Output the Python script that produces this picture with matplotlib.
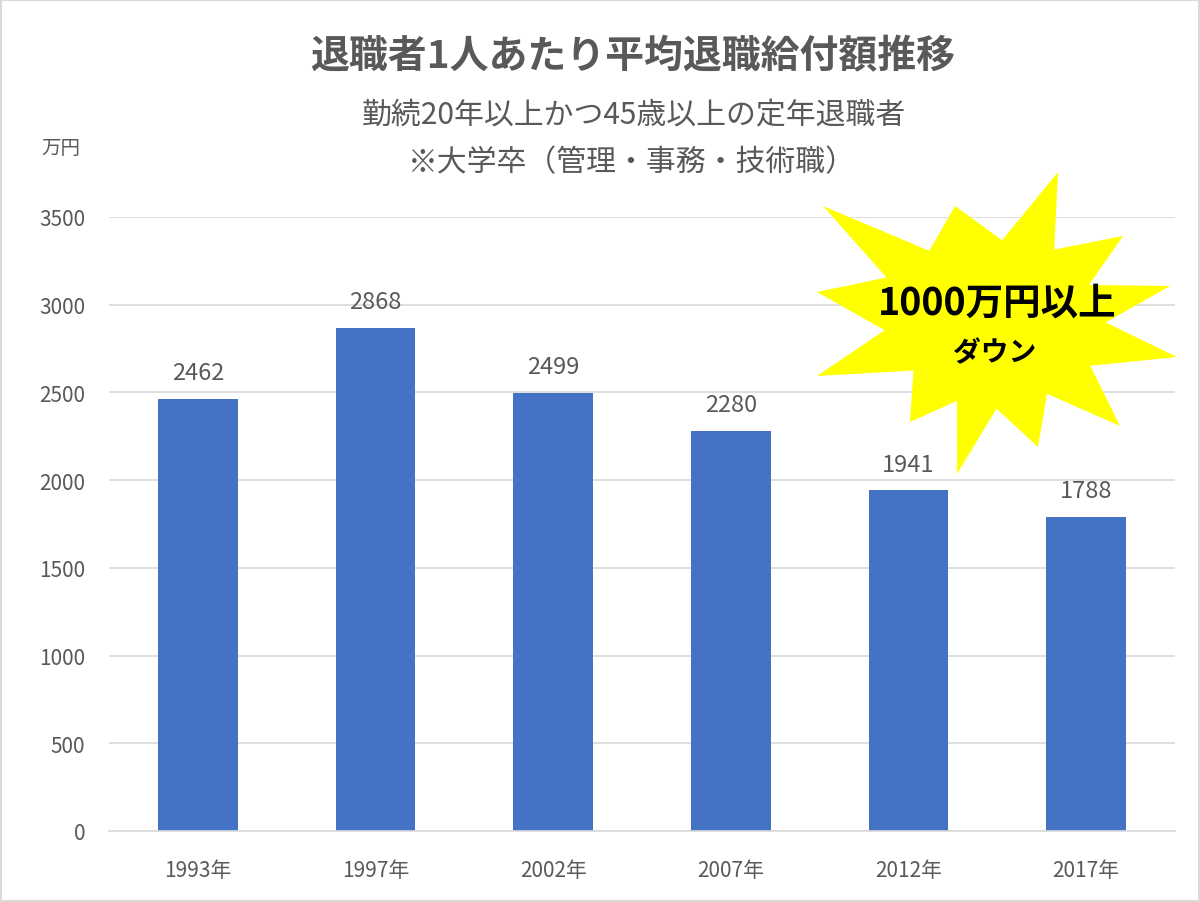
import matplotlib.pyplot as plt
import numpy as np
from matplotlib.patches import Polygon, Rectangle

plt.rcParams['font.family'] = ['Noto Sans CJK JP', 'DejaVu Sans']

# data
years = ['1993年', '1997年', '2002年', '2007年', '2012年', '2017年']
amounts = [2462, 2868, 2499, 2280, 1941, 1788]
yticks = [0, 500, 1000, 1500, 2000, 2500, 3000, 3500]

grey = '#595959'

fig = plt.figure(figsize=(12, 9.03), dpi=100)
ax = fig.add_axes([109 / 1200, 1 - 832 / 903, (1175 - 109) / 1200, (832 - 218) / 903])

x = np.arange(len(years))
ax.bar(x, amounts, width=0.45, color='#4472C4', zorder=2)
for i, v in enumerate(amounts):
    ax.text(i, v + 85, str(v), ha='center', va='bottom', fontsize=17, color=grey)

ax.set_xlim(-0.5, len(years) - 0.5)
ax.set_ylim(0, 3500)
ax.set_yticks(yticks)
ax.set_xticks(x)
ax.set_xticklabels(years)
ax.tick_params(axis='both', length=0, labelsize=15, colors=grey)
ax.tick_params(axis='y', pad=17)
ax.tick_params(axis='x', pad=20)
ax.grid(axis='y', color='#d9d9d9', linewidth=1.2, zorder=0)
for s in ['top', 'right', 'left']:
    ax.spines[s].set_visible(False)
ax.spines['bottom'].set_color('#d9d9d9')
ax.spines['bottom'].set_linewidth(1.2)

# titles
fig.text(633 / 1200, 1 - 57 / 903, '退職者1人あたり平均退職給付額推移', ha='center', va='center',
         fontsize=28, fontweight='bold', color=grey)
fig.text(634 / 1200, 1 - 116 / 903, '勤続20年以上かつ45歳以上の定年退職者', ha='center', va='center',
         fontsize=21.5, color=grey)
fig.text(632 / 1200, 1 - 163 / 903, '※大学卒（管理・事務・技術職）', ha='center', va='center',
         fontsize=21.5, color=grey)
fig.text(61 / 1200, 1 - 148 / 903, '万円', ha='center', va='center', fontsize=14, color=grey)

# starburst annotation (figure pixels)
tips = [(823, 207), (955, 207), (1058, 173), (1123, 237), (1170, 287), (1177, 358),
        (1120, 427), (1038, 448), (957, 475), (910, 423), (817, 377), (817, 293)]
cx, cy = 995, 325
pts = []
for k in range(len(tips)):
    a = np.array(tips[k], float)
    b = np.array(tips[(k + 1) % len(tips)], float)
    pts.append(a)
    mid = (a + b) / 2
    pts.append(np.array([cx, cy]) + 0.62 * (mid - np.array([cx, cy])))
pts = np.array(pts)
pts_fig = np.column_stack([pts[:, 0] / 1200, 1 - pts[:, 1] / 903])
fig.patches.append(Polygon(pts_fig, closed=True, transform=fig.transFigure,
                           facecolor='#FFFF00', edgecolor='none', zorder=5))
fig.text(997 / 1200, 1 - 303 / 903, '1000万円以上', ha='center', va='center',
         fontsize=27, fontweight='bold', color='black', zorder=6)
fig.text(995 / 1200, 1 - 353 / 903, 'ダウン', ha='center', va='center',
         fontsize=20, fontweight='bold', color='black', zorder=6)

# light frame
fig.patches.append(Rectangle((0.001, 0.001), 0.998, 0.998, transform=fig.transFigure,
                             facecolor='none', edgecolor='#d9d9d9', linewidth=1.5))

fig.savefig('out.png', dpi=100)
